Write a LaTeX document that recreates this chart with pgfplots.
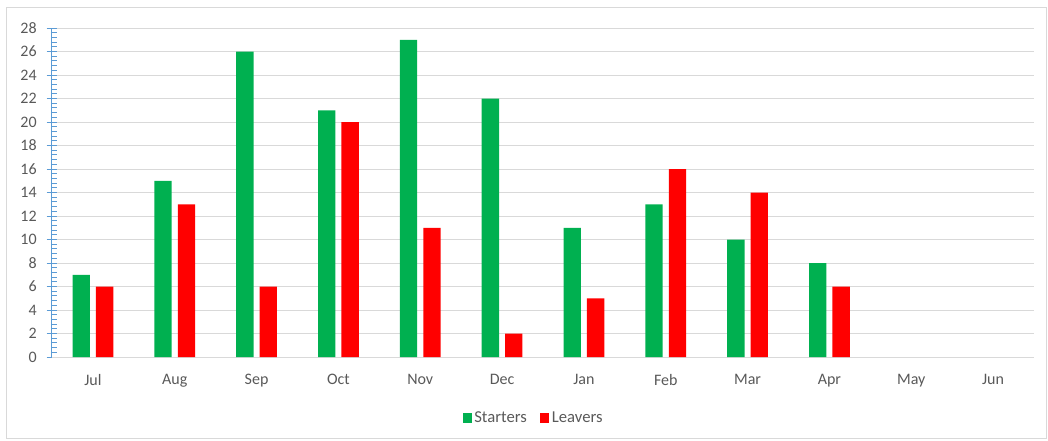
\documentclass[border=0pt]{standalone}
\usepackage{fontspec}
\setmainfont{Carlito}
\usepackage{pgfplots}
\pgfplotsset{compat=1.18}
\definecolor{txt}{HTML}{595959}
\definecolor{grd}{HTML}{D9D9D9}
\definecolor{ax}{HTML}{5B9BD5}
\definecolor{sgreen}{HTML}{00B050}
\definecolor{lred}{HTML}{FF0000}
\begin{document}
\begin{tikzpicture}
\path[use as bounding box] (0,0) rectangle (786pt,330pt);
\draw[grd, line width=0.75pt] (4.5pt,1.5pt) rectangle (784.5pt,324pt);
\begin{axis}[
  at={(39pt,62.25pt)}, anchor=south west,
  scale only axis, width=736.5pt, height=246.75pt,
  xmin=-0.5, xmax=11.5, ymin=0, ymax=28,
  ytick distance=2, minor y tick num=4,
  xtick={0,...,11},
  xticklabels={Jul,Aug,Sep,Oct,Nov,Dec,Jan,Feb,Mar,Apr,May,Jun},
  axis x line*=bottom, axis y line*=left,
  x axis line style={grd, line width=0.75pt, -},
  y axis line style={ax, line width=0.75pt, -},
  xtick style={draw=none},
  ytick style={ax, line width=0.75pt},
  tick align=inside,
  major tick length=8pt,
  minor tick length=3.75pt,
  every major tick/.append style={xshift=-4pt},
  ymajorgrids, major grid style={grd, line width=0.75pt},
  tick label style={font=\fontsize{12}{14}\selectfont, text=txt},
  /pgf/number format/assume math mode=true,
  yticklabel style={xshift=-8pt},
  xticklabel style={yshift=-9.5pt},
  legend style={at={(rel axis cs:0.4908,-0.1854)}, anchor=center, draw=none, fill=none,
    legend columns=2, font=\fontsize{12.5}{14}\selectfont, text=txt,
    /tikz/every even column/.append style={column sep=8pt}},
  legend image code/.code={\fill[#1] (0pt,-3.4pt) rectangle (6.75pt,3.4pt);},
  legend cell align=left,
  clip=false,
]
\addplot[ybar, fill=sgreen, draw=none, bar width=13pt, bar shift=-8.8pt] coordinates {
(0,7) (1,15) (2,26) (3,21) (4,27) (5,22) (6,11) (7,13) (8,10) (9,8)};
\addlegendentry{Starters}
\addplot[ybar, fill=lred, draw=none, bar width=13pt, bar shift=8.8pt] coordinates {
(0,6) (1,13) (2,6) (3,20) (4,11) (5,2) (6,5) (7,16) (8,14) (9,6)};
\addlegendentry{Leavers}
\end{axis}
\end{tikzpicture}
\end{document}
